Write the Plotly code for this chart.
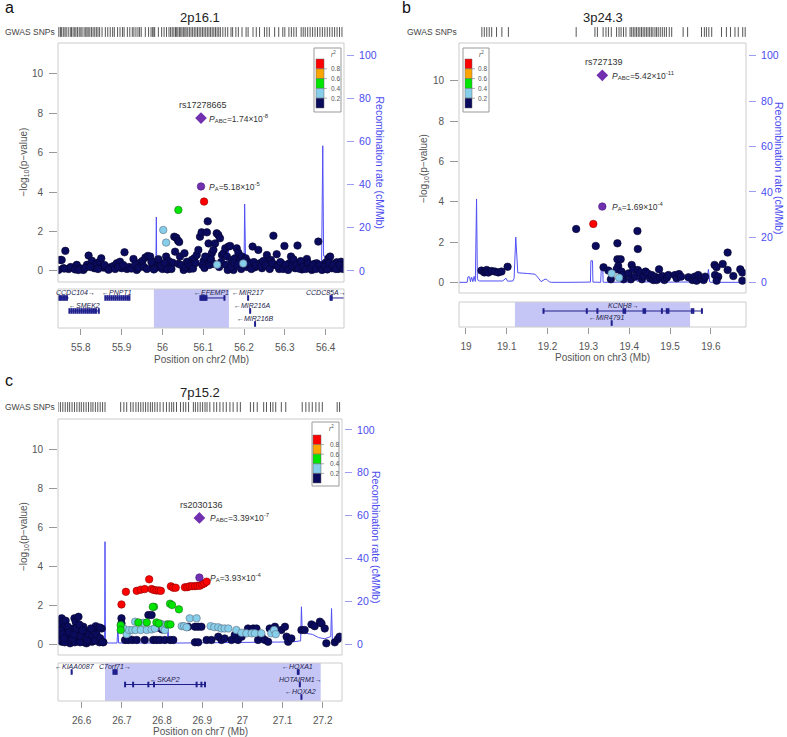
import plotly.graph_objects as go

W, H = 787, 737
FONT = "Liberation Sans, Arial, sans-serif"

# ===================== DATA: panel a (2p16.1) =====================
a_navy_pos = [55.749,55.753,55.762,55.745,55.757,55.770,55.782,55.790,55.798,55.806,55.815,55.819,55.827,55.833,55.839,55.846,55.850,55.855,55.864,55.872,
 55.880,55.888,55.896,55.900,55.907,55.913,55.929,55.937,55.945,55.951,55.958,55.964,55.970,55.976,55.982,55.986,55.994,56.000,56.009,56.015,
 56.019,56.025,56.029,56.034,56.038,56.041,56.031,56.039,56.043,56.052,56.054,56.060,56.066,56.072,56.078,56.084,56.088,56.092,56.096,56.101,
 56.105,56.109,56.111,56.113,56.117,56.121,56.125,56.129,56.133,56.137,56.141,56.146,56.150,56.154,56.158,56.162,56.166,56.170,56.174,56.178,
 56.182,56.186,56.190,56.195,56.199,56.204,56.209,56.215,56.221,56.227,56.235,56.239,56.244,56.250,56.256,56.260,56.266,56.272,56.276,56.280,
 56.286,56.293,56.299,56.305,56.311,56.315,56.321,56.325,56.331,56.336,56.342,56.348,56.354,56.360,56.366,56.373,56.378,56.382,56.387,56.395,
 56.400,56.407,56.411,56.415,56.422,56.427,56.431,56.438,56.441,
 55.760,55.775,55.786,55.794,55.810,55.823,55.842,55.858,55.868,55.884,55.892,55.904,55.918,55.924,55.933,55.941,55.955,55.962,55.973,55.979,
 55.990,55.997,56.005,56.012,56.022,56.046,56.057,56.063,56.069,56.075,56.081,56.098,56.103,56.115,56.119,56.127,56.139,56.144,56.156,56.160,
 56.168,56.176,56.184,56.193,56.201,56.207,56.212,56.218,56.224,56.230,56.242,56.247,56.253,56.263,56.269,56.283,56.289,56.296,56.302,56.308,
 56.318,56.328,56.334,56.339,56.345,56.351,56.357,56.363,56.369,56.376,56.385,56.391,56.398,56.404,56.409,56.418,56.425,56.434,56.443]
a_navy_logp = [0.56,0.56,1.02,0.05,0.14,0.10,0.17,0.31,0.14,0.05,0.31,0.78,0.52,0.14,0.39,0.47,0.64,0.17,0.14,0.19,
 0.25,0.39,0.47,0.14,0.95,0.10,0.61,0.05,0.42,0.51,0.68,0.76,0.73,0.25,0.47,0.17,0.36,0.10,0.73,0.51,
 0.22,0.42,1.74,1.69,1.54,1.47,0.98,0.36,0.73,0.05,0.90,0.47,0.10,0.56,0.64,0.81,1.07,1.74,1.96,0.51,
 0.73,1.96,2.52,1.40,0.51,0.90,1.07,1.40,1.91,1.83,1.66,0.81,0.90,1.15,0.73,1.24,1.27,0.56,0.05,0.64,
 1.15,0.93,0.56,0.73,0.31,0.64,0.47,0.25,1.24,0.19,1.07,0.39,0.14,0.47,0.81,0.22,0.56,1.79,0.31,0.85,
 0.10,0.36,1.27,0.17,0.39,0.73,0.59,0.14,1.29,0.39,0.08,0.31,0.61,0.22,0.05,0.36,0.39,1.49,0.17,0.10,
 0.42,0.64,0.73,0.14,0.36,0.44,0.10,0.47,0.31,
 0.12,0.20,0.08,0.05,0.15,0.20,0.10,0.30,0.06,0.10,0.20,0.30,0.20,0.12,0.30,0.15,0.20,0.10,0.45,0.08,
 0.60,0.25,0.40,0.08,0.10,0.30,0.20,0.35,0.25,0.12,0.40,0.30,0.15,0.30,0.60,0.35,0.20,0.45,0.30,0.05,
 0.20,0.40,0.30,0.10,0.50,0.20,0.35,0.10,0.45,0.30,0.25,0.50,0.30,0.10,0.40,0.25,0.45,0.10,0.30,0.05,
 0.25,0.30,0.12,0.50,0.20,0.10,0.40,0.15,0.30,0.10,0.30,0.05,0.25,0.08,0.40,0.30,0.10,0.30,0.10]
a_lblue_pos = [56.002, 56.009, 56.134, 56.198]
a_lblue_logp = [2.08, 1.44, 0.32, 0.38]
a_green_pos = [56.039]
a_green_logp = [3.10]
a_red_pos = [56.102]
a_red_logp = [3.52]
a_lead_pos = 56.0945
a_lead_pa = 4.29
a_lead_pabc = 7.76
a_lead_name = "rs17278665"
a_pabc_text = "1.74×10<sup>-8</sup>"
a_pa_text = "5.18×10<sup>-5</sup>"
a_rec_pos = [55.744,55.76,55.78,55.80,55.82,55.85,55.88,55.90,55.92,55.94,55.96,55.975,55.984,55.985,55.986,55.987,55.99,56.00,56.008,56.009,
 56.010,56.02,56.04,56.06,56.08,56.10,56.12,56.123,56.125,56.14,56.16,56.161,56.163,56.18,56.20,56.2015,56.2025,56.204,56.22,56.25,
 56.28,56.31,56.34,56.37,56.39,56.393,56.394,56.395,56.397,56.40,56.41,56.42,56.445]
a_rec_rate = [0.5,0.4,0.6,0.5,0.8,0.6,0.5,0.7,1.0,1.2,1.5,1.8,2.0,25,2.5,2.0,2.2,2.5,3.0,7.5,
 3.0,3.5,4.0,3.5,4.5,5.0,4.5,9.0,4.5,4.0,4.5,12,4.0,3.0,2.5,31,2.5,2.0,1.5,1.2,
 1.0,0.8,0.9,1.2,1.5,58,8,7,7,5,3,2,1.5]
a_snps = [55.746,55.750,55.753,55.757,55.761,55.764,55.769,55.774,55.777,55.781,55.785,55.788,55.792,55.796,55.800,55.803,55.808,55.812,55.815,55.818,
 55.822,55.826,55.830,55.834,55.838,55.842,55.846,55.852,55.860,55.866,55.872,55.878,55.882,55.890,55.896,55.902,55.906,55.914,55.920,55.926,
 55.930,55.935,55.940,55.944,55.948,55.958,55.966,55.972,55.976,55.979,55.981,55.990,55.998,56.004,56.010,56.016,56.020,56.024,56.028,56.032,
 56.035,56.038,56.042,56.045,56.048,56.052,56.055,56.058,56.062,56.066,56.070,56.074,56.078,56.082,56.086,56.090,56.094,56.098,56.102,56.106,
 56.110,56.114,56.118,56.122,56.126,56.130,56.134,56.138,56.142,56.148,56.154,56.160,56.168,56.172,56.180,56.186,56.195,56.205,56.210,56.222,
 56.230,56.238,56.250,56.256,56.262,56.275,56.285,56.295,56.300,56.310,56.316,56.322,56.328,56.340,56.345,56.350,56.356,56.362,56.368,56.374,
 56.380,56.386,56.392,56.398,56.404,56.410,56.416,56.422,56.428,56.434,56.440]
a_region = [55.979, 56.163]
a_gene_names = ["CCDC104→", "←PNPT1", "←EFEMP1", "←MIR217", "CCDC85A→", "←SMEK2", "←MIR216A", "←MIR216B"]
a_gene_start = [55.744, 55.859, 56.092, 56.209, 56.410, 55.771, 56.214, 56.226]
a_gene_end = [55.770, 55.920, 56.153, 56.211, 56.445, 55.845, 56.216, 56.228]
a_gene_row = [1, 1, 1, 1, 1, 2, 2, 3]
a_gene_label = [55.788, 55.889, 56.121, 56.212, 56.402, 55.808, 56.221, 56.228]
a_gene_exons = [[55.745,55.749,55.753,55.757,55.761,55.766],
 [55.860,55.865,55.870,55.875,55.880,55.885,55.890,55.895,55.900,55.905,55.910,55.915,55.919],
 [56.093,56.096,56.099,56.102,56.105,56.108,56.152],
 [56.210], [56.412,56.415],
 [55.772,55.777,55.782,55.787,55.792,55.797,55.802,55.807,55.812,55.817,55.822,55.827,55.832,55.837,55.844],
 [56.215], [56.227]]
a_xticks = [55.8, 55.9, 56.0, 56.1, 56.2, 56.3, 56.4]
a_xticktext = ["55.8", "55.9", "56", "56.1", "56.2", "56.3", "56.4"]

# ===================== DATA: panel b (3p24.3) =====================
b_navy_pos = [19.038,19.045,19.049,19.051,19.055,19.063,19.071,19.079,19.087,19.102,
 19.270,19.318,19.371,19.420,19.421,19.641,
 19.337,19.349,19.355,19.371,19.379,19.373,19.369,19.381,19.386,19.384,19.398,19.406,19.410,19.404,19.414,19.421,19.426,19.431,19.435,19.440,
 19.445,19.451,19.455,19.459,19.463,19.467,19.473,19.475,19.481,19.486,19.492,19.496,19.512,19.516,19.522,19.527,19.545,19.555,19.560,19.565,
 19.569,19.576,19.582,19.586,19.609,19.614,19.610,19.618,19.614,19.629,19.641,19.655,19.672,19.677,19.677]
b_navy_logp = [0.60,0.51,0.58,0.63,0.50,0.58,0.55,0.51,0.55,0.79,
 2.66,1.82,1.95,2.56,1.67,1.49,
 0.76,0.60,0.17,1.16,1.16,0.83,0.66,0.55,0.17,0.38,0.46,0.88,0.66,0.17,0.30,0.63,0.50,0.17,0.33,0.55,
 0.46,0.22,0.38,0.13,0.30,0.13,0.66,0.25,0.33,0.13,0.25,0.38,0.38,0.22,0.43,0.30,0.27,0.13,0.30,0.10,
 0.38,0.22,0.13,0.30,0.88,0.76,0.38,0.30,0.10,0.93,0.63,0.33,0.66,0.50,0.10]
b_lblue_pos = [19.357, 19.375]
b_lblue_logp = [0.46, 0.25]
b_green_pos = []
b_green_logp = []
b_red_pos = [19.312]
b_red_logp = [2.91]
b_lead_pos = 19.334
b_lead_pa = 3.77
b_lead_pabc = 10.27
b_lead_name = "rs727139"
b_pabc_text = "5.42×10<sup>-11</sup>"
b_pa_text = "1.69×10<sup>-4</sup>"
b_rec_pos = [18.983,19.003,19.005,19.009,19.011,19.014,19.017,19.020,19.023,19.026,19.028,19.030,19.033,19.06,19.09,19.098,19.100,19.102,19.115,19.118,
 19.122,19.127,19.15,19.169,19.177,19.184,19.194,19.198,19.204,19.21,19.25,19.30,19.305,19.306,19.310,19.311,19.33,19.332,19.335,19.336,
 19.34,19.38,19.41,19.415,19.42,19.425,19.43,19.50,19.59,19.594,19.597,19.60,19.686]
b_rec_rate = [0.2,0.2,2.6,2.6,0.5,2.4,0.5,2.8,0.6,36.9,2.0,1.0,0.8,0.9,0.8,2.0,0.8,0.7,0.8,2.0,
 20.1,4.4,4.1,3.8,2.2,0.5,1.6,1.5,0.4,0.2,0.2,0.2,0.3,9.7,9.7,0.3,0.2,7.8,7.8,0.3,
 0.2,0.3,0.3,2.5,0.5,2.8,0.4,0.3,0.4,5.9,0.4,0.2,0.2]
b_snps = [19.039,19.045,19.051,19.057,19.063,19.075,19.088,19.104,19.270,
 19.316,19.322,19.336,19.343,19.349,19.356,19.369,19.375,19.380,19.386,19.392,19.402,19.406,19.410,19.414,19.418,19.422,19.426,19.430,19.434,
 19.438,19.442,19.446,19.450,19.454,19.458,19.463,19.467,19.471,19.476,19.481,19.486,19.491,19.498,19.504,19.532,19.543,19.577,19.584,19.589,
 19.595,19.602,19.626,19.638,19.648,19.659,19.667,19.678,19.684]
b_region = [19.120, 19.549]
b_gene_names = ["KCNH8→", "←MIR4791"]
b_gene_start = [19.189, 19.356]
b_gene_end = [19.579, 19.358]
b_gene_row = [1, 2]
b_gene_label = [19.385, 19.345]
b_gene_exons = [[19.190,19.296,19.322,19.386,19.390,19.435,19.439,19.480,19.492,19.496,19.553,19.557,19.578], [19.357]]
b_xticks = [19.0, 19.1, 19.2, 19.3, 19.4, 19.5, 19.6]
b_xticktext = ["19", "19.1", "19.2", "19.3", "19.4", "19.5", "19.6"]

# ===================== DATA: panel c (7p15.2) =====================
c_navy_pos = [26.546,26.546,26.550,26.554,26.558,26.563,26.550,26.542,26.567,26.571,26.575,26.579,26.582,26.585,26.592,26.590,26.596,26.600,26.604,26.608,
 26.612,26.616,26.621,26.625,26.631,26.635,26.640,26.644,26.650,26.654,26.558,26.573,26.583,26.606,26.629,26.596,
 26.548,26.552,26.556,26.560,26.565,26.569,26.577,26.581,26.587,26.594,26.598,26.602,26.610,26.614,26.618,26.623,26.627,26.633,26.637,26.646,26.652,26.645,
 26.699,26.699,26.708,26.716,26.726,26.737,26.757,26.766,26.774,26.778,26.786,26.795,26.799,26.807,26.820,26.828,26.865,26.882,26.890,26.898,
 26.882,26.890,26.911,26.923,26.940,26.948,26.956,26.973,26.981,26.989,26.998,27.014,27.027,27.035,27.039,27.048,27.056,27.064,27.068,27.081,
 27.097,27.106,27.110,27.114,27.122,27.147,27.155,27.172,27.180,27.193,27.197,27.205,27.209,27.230,27.238,27.242,26.790,26.800,26.805]
c_navy_logp = [0.38,1.06,1.32,1.15,0.89,0.63,0.12,0.21,0.29,0.04,0.55,0.80,1.32,1.15,1.40,0.38,0.63,0.21,0.89,0.46,
 0.04,0.63,0.38,0.12,0.80,0.92,0.29,0.09,0.80,0.09,0.09,0.21,0.09,0.09,0.15,0.09,
 0.70,0.50,0.30,1.20,0.90,0.60,0.30,0.50,0.80,1.00,0.40,0.70,0.30,0.20,0.50,0.80,0.40,0.20,0.50,0.30,0.10,0.85,
 1.32,1.06,0.21,0.21,0.21,0.21,0.21,1.49,1.49,0.21,0.21,0.21,0.80,0.21,0.21,0.21,0.89,0.89,0.89,0.89,
 0.09,0.09,0.21,0.21,0.38,0.21,0.29,0.21,0.46,0.21,0.38,0.80,0.80,0.80,0.21,0.38,0.21,0.12,0.80,0.89,
 0.72,0.89,0.38,0.12,0.29,0.72,0.72,1.01,0.92,1.15,1.06,0.80,0.04,0.09,0.26,0.38,0.85,0.75,0.90]
c_lblue_pos = [26.704,26.712,26.718,26.726,26.734,26.733,26.753,26.747,26.762,26.774,26.782,26.797,26.803,26.807,26.811,26.849,26.855,26.861,26.869,26.886,
 26.921,26.930,26.940,26.948,26.956,26.965,26.985,26.998,27.010,27.023,27.031,27.047,27.072,27.079,27.083]
c_lblue_logp = [0.80,0.51,0.72,0.72,0.72,1.15,1.09,0.72,0.72,0.75,0.80,1.04,0.80,0.72,1.01,0.92,0.92,0.86,1.32,1.32,
 0.92,0.87,0.86,0.80,0.80,0.80,0.72,0.58,0.55,0.55,0.55,0.55,0.55,0.72,0.51]
c_green_pos = [26.780,26.777,26.820,26.825,26.842,26.697,26.697,26.741,26.762,26.786,26.792,26.815,26.821]
c_green_logp = [1.91,1.91,2.07,2.00,1.78,0.97,0.72,1.11,1.11,1.11,1.06,1.01,1.01]
c_red_pos = [26.699,26.710,26.737,26.747,26.757,26.768,26.774,26.780,26.786,26.792,26.797,26.822,26.828,26.834,26.857,26.863,26.869,26.875,26.882,26.888,
 26.894,26.900,26.905,26.911]
c_red_logp = [2.03,2.68,2.73,2.79,2.82,3.32,2.82,2.77,2.75,2.75,2.73,2.96,2.89,2.89,2.91,2.92,2.96,2.97,2.97,2.99,
 2.99,3.06,3.11,3.20]
c_lead_pos = 26.893
c_lead_pa = 3.41
c_lead_pabc = 6.47
c_lead_name = "rs2030136"
c_pabc_text = "3.39×10<sup>-7</sup>"
c_pa_text = "3.93×10<sup>-4</sup>"
c_rec_pos = [26.541,26.543,26.544,26.546,26.549,26.550,26.552,26.556,26.565,26.585,26.605,26.607,26.609,26.63,26.650,26.657,26.658,26.659,26.665,26.688,
 26.690,26.692,26.722,26.724,26.726,26.76,26.80,26.813,26.815,26.817,26.85,26.90,26.95,27.00,27.05,27.10,27.120,27.122,27.124,27.145,
 27.147,27.149,27.16,27.175,27.19,27.205,27.220,27.222,27.224,27.235,27.248]
c_rec_rate = [1.0,10.7,1.0,2.0,13.5,2.0,1.0,5.0,1.0,0.8,1.0,9.0,1.0,0.8,1.2,1.0,47.8,1.0,0.5,0.5,
 7.4,0.5,0.5,3.9,0.5,0.5,0.5,0.5,7.4,0.5,0.5,0.6,0.7,0.5,0.8,0.7,1.0,4.0,1.0,1.5,
 17.4,5.9,5.0,4.5,3.0,2.5,3.5,16.6,2.0,1.5,3.0]
c_snps = [26.541,26.547,26.553,26.559,26.565,26.570,26.576,26.582,26.588,26.594,26.599,26.605,26.611,26.617,26.623,26.628,26.634,26.640,26.646,26.652,26.658,
 26.697,26.705,26.712,26.722,26.728,26.735,26.741,26.747,26.753,26.759,26.765,26.771,26.776,26.782,26.788,26.795,26.803,26.811,26.818,26.824,
 26.829,26.836,26.846,26.853,26.859,26.866,26.878,26.883,26.889,26.895,26.901,26.907,26.912,26.919,26.929,26.936,26.944,26.952,26.960,26.969,
 26.977,26.987,26.995,27.020,27.028,27.037,27.053,27.060,27.070,27.076,27.083,27.097,27.108,27.149,27.158,27.166,27.174,27.183,27.191,27.199,
 27.236,27.242]
c_region = [26.658, 27.195]
c_gene_names = ["←KIAA0087", "C7orf71→", "←HOXA1", "←SKAP2", "HOTAIRM1→", "←HOXA2"]
c_gene_start = [26.573, 26.678, 27.137, 26.708, 27.142, 27.146]
c_gene_end = [26.577, 26.688, 27.141, 26.907, 27.145, 27.148]
c_gene_row = [1, 1, 1, 2, 2, 3]
c_gene_label = [26.583, 26.684, 27.138, 26.807, 27.144, 27.145]
c_gene_exons = [[26.575], [26.679, 26.683, 26.687], [27.138, 27.140],
 [26.708, 26.728, 26.766, 26.780, 26.886, 26.898, 26.907], [27.143], [27.147]]
c_xticks = [26.6, 26.7, 26.8, 26.9, 27.0, 27.1, 27.2]
c_xticktext = ["26.6", "26.7", "26.8", "26.9", "27", "27.1", "27.2"]

# LD legend
ld_colors = ["#FF0000", "#FFA500", "#00E600", "#87CEEB", "#0B0B5E"]
ld_breaks = ["0.8", "0.6", "0.4", "0.2"]

# ===================== LAYOUT GEOMETRY (pixels) =====================
geoms = [
    dict(tag="a", title="2p16.1", chrom="chr2", box=(58, 344, 43, 282), gene=(289, 328), strip=32,
         yp=[-0.56, 11.57], yr=[-5.1, 105.6], xr=[55.744, 56.445], gr=[0.69, 3.69], rpos=346,
         leg=(314, 48, 341, 112), sqx=(316, 324), sqy=(59, 108), labx=330,
         tpos=(200, 17), lpos=(3, 8), gwx=3, ltx=24, rtx=379, xly=359, yshift_name=13, pshift=9),
    dict(tag="b", title="3p24.3", chrom="chr3", box=(459, 746, 43, 293), gene=(302, 327), strip=32,
         yp=[-0.51, 11.87], yr=[-4.5, 105.6], xr=[18.983, 19.686], gr=[1.67, 3.75], rpos=748,
         leg=(463, 48, 489, 112), sqx=(465, 472), sqy=(59, 108), labx=477,
         tpos=(603, 17), lpos=(400, 8), gwx=405, ltx=424, rtx=779, xly=357, yshift_name=13, pshift=11),
    dict(tag="c", title="7p15.2", chrom="chr7", box=(58, 342, 419, 655), gene=(663, 701), strip=407,
         yp=[-0.56, 11.54], yr=[-5.1, 105.1], xr=[26.541, 27.248], gr=[0.68, 3.72], rpos=344,
         leg=(312, 422, 339, 486), sqx=(313, 321), sqy=(435, 483), labx=329,
         tpos=(200, 392), lpos=(3, 380), gwx=3, ltx=24, rtx=376, xly=731, yshift_name=13, pshift=12),
]

datas = [
    dict(navy=(a_navy_pos, a_navy_logp), lblue=(a_lblue_pos, a_lblue_logp), green=(a_green_pos, a_green_logp),
         red=(a_red_pos, a_red_logp), lead=(a_lead_pos, a_lead_pa, a_lead_pabc, a_lead_name, a_pabc_text, a_pa_text),
         rec=(a_rec_pos, a_rec_rate), snps=a_snps, region=a_region,
         genes=(a_gene_names, a_gene_start, a_gene_end, a_gene_row, a_gene_label, a_gene_exons),
         xt=(a_xticks, a_xticktext)),
    dict(navy=(b_navy_pos, b_navy_logp), lblue=(b_lblue_pos, b_lblue_logp), green=(b_green_pos, b_green_logp),
         red=(b_red_pos, b_red_logp), lead=(b_lead_pos, b_lead_pa, b_lead_pabc, b_lead_name, b_pabc_text, b_pa_text),
         rec=(b_rec_pos, b_rec_rate), snps=b_snps, region=b_region,
         genes=(b_gene_names, b_gene_start, b_gene_end, b_gene_row, b_gene_label, b_gene_exons),
         xt=(b_xticks, b_xticktext)),
    dict(navy=(c_navy_pos, c_navy_logp), lblue=(c_lblue_pos, c_lblue_logp), green=(c_green_pos, c_green_logp),
         red=(c_red_pos, c_red_logp), lead=(c_lead_pos, c_lead_pa, c_lead_pabc, c_lead_name, c_pabc_text, c_pa_text),
         rec=(c_rec_pos, c_rec_rate), snps=c_snps, region=c_region,
         genes=(c_gene_names, c_gene_start, c_gene_end, c_gene_row, c_gene_label, c_gene_exons),
         xt=(c_xticks, c_xticktext)),
]


def PX(x):
    return x / W


def PY(y):
    return 1 - y / H


def aname(kind, n):
    return f"{kind}axis" if n == 1 else f"{kind}axis{n}"


def ref(kind, n):
    return kind if n == 1 else f"{kind}{n}"


def ptext(x, y, text, size, color, xanchor="center", angle=0):
    return dict(x=PX(x), y=PY(y), xref="paper", yref="paper", xanchor=xanchor, yanchor="middle",
                showarrow=False, text=text, textangle=angle, font=dict(size=size, color=color, family=FONT))


fig = go.Figure()
layout = dict(width=W, height=H, margin=dict(l=0, r=0, t=0, b=0, pad=0), showlegend=False, autosize=False,
              paper_bgcolor="white", plot_bgcolor="rgba(0,0,0,0)", template="none",
              font=dict(family=FONT, color="#444"))
shapes, annots = [], []
GREY = "#555555"
BLUE = "#4B4BF0"
GENEC = "#1E1E8C"

for i, (g, d) in enumerate(zip(geoms, datas)):
    xm, xg, xs = 3 * i + 1, 3 * i + 2, 3 * i + 3
    yrec, yp, yg, ys = 4 * i + 1, 4 * i + 2, 4 * i + 3, 4 * i + 4
    bx0, bx1, by0, by1 = g["box"]
    xdom = [PX(bx0), PX(bx1)]
    noax = dict(showgrid=False, zeroline=False, showline=False, showticklabels=False, ticks="")

    layout[aname("x", xm)] = dict(domain=xdom, range=g["xr"], anchor=ref("y", yrec), visible=False)
    layout[aname("y", yrec)] = dict(domain=[PY(by1), PY(by0)], range=g["yr"], anchor="free", position=PX(g["rpos"]),
                                    side="right", showgrid=False, zeroline=False, showline=False,
                                    tickvals=[0, 20, 40, 60, 80, 100], ticks="outside", ticklen=7, tickcolor="#9C9CF0",
                                    tickfont=dict(size=10.5, color=BLUE, family=FONT), ticklabelstandoff=3)
    layout[aname("y", yp)] = dict(overlaying=ref("y", yrec), range=g["yp"], anchor=ref("x", xm), side="left",
                                  showgrid=False, zeroline=False, showline=False,
                                  tickvals=[0, 2, 4, 6, 8, 10], ticks="outside", ticklen=8, tickcolor="#999",
                                  tickfont=dict(size=10, color=GREY, family=FONT), ticklabelstandoff=4)
    gy0, gy1 = g["gene"]
    layout[aname("x", xg)] = dict(domain=xdom, range=g["xr"], anchor=ref("y", yg), showgrid=False, zeroline=False,
                                  showline=False, tickvals=d["xt"][0], ticktext=d["xt"][1], ticks="outside",
                                  ticklen=6, tickcolor="#999", tickfont=dict(size=10, color=GREY, family=FONT),
                                  ticklabelstandoff=4)
    layout[aname("y", yg)] = dict(domain=[PY(gy1), PY(gy0)], range=g["gr"], anchor=ref("x", xg), **noax)
    layout[aname("x", xs)] = dict(domain=xdom, range=g["xr"], anchor=ref("y", ys), **noax)
    layout[aname("y", ys)] = dict(domain=[PY(g["strip"] + 5), PY(g["strip"] - 5)], range=[0, 1],
                                  anchor=ref("x", xs), **noax)

    # recombination rate
    rp, rr = d["rec"]
    fig.add_trace(go.Scatter(x=rp, y=rr, mode="lines", line=dict(color="rgb(80,80,245)", width=1),
                             xaxis=ref("x", xm), yaxis=ref("y", yrec), hoverinfo="skip"))
    # SNP points by LD bin
    for key, col, lc in [("navy", ld_colors[4], "#05052E"), ("lblue", ld_colors[3], "#5F6F80"),
                         ("green", ld_colors[2], "#1F6F1F"), ("red", ld_colors[0], "#8A0000")]:
        xs_, ys_ = d[key]
        if xs_:
            fig.add_trace(go.Scatter(x=xs_, y=ys_, mode="markers",
                                     marker=dict(size=7.5, color=col, line=dict(color=lc, width=0.6)),
                                     xaxis=ref("x", xm), yaxis=ref("y", yp)))
    lpos, lpa, lpabc, lname, tabc, tpa = d["lead"]
    fig.add_trace(go.Scatter(x=[lpos], y=[lpa], mode="markers",
                             marker=dict(size=7.5, color="#7030B0", line=dict(color="#4A1A80", width=0.6)),
                             xaxis=ref("x", xm), yaxis=ref("y", yp)))
    fig.add_trace(go.Scatter(x=[lpos], y=[lpabc], mode="markers",
                             marker=dict(size=9, symbol="diamond", color="#7030B0", line=dict(width=0)),
                             xaxis=ref("x", xm), yaxis=ref("y", yp)))
    annots.append(dict(x=lpos, y=lpabc, xref=ref("x", xm), yref=ref("y", yp), text=lname, showarrow=False,
                       xanchor="center", yanchor="middle",
                       yshift=g["yshift_name"], xshift=2, font=dict(size=9, color="#333", family=FONT)))
    annots.append(dict(x=lpos, y=lpabc, xref=ref("x", xm), yref=ref("y", yp), xanchor="left", yanchor="middle",
                       showarrow=False, xshift=g["pshift"] - 3, text=f"<i>P</i><sub>ABC</sub>={tabc}",
                       font=dict(size=8.5, color="#333", family=FONT)))
    annots.append(dict(x=lpos, y=lpa, xref=ref("x", xm), yref=ref("y", yp), xanchor="left", yanchor="middle",
                       showarrow=False, xshift=g["pshift"] - 3, text=f"<i>P</i><sub>A</sub>={tpa}",
                       font=dict(size=8.5, color="#333", family=FONT)))

    # GWAS SNPs strip
    fig.add_trace(go.Scatter(x=d["snps"], y=[0.5] * len(d["snps"]), mode="markers",
                             marker=dict(symbol="line-ns", size=7, line=dict(color="#555555", width=1)),
                             xaxis=ref("x", xs), yaxis=ref("y", ys), hoverinfo="skip"))

    # region shading in gene panel
    shapes.append(dict(type="rect", xref=ref("x", xg), yref=ref("y", yg) + " domain", x0=d["region"][0],
                       x1=d["region"][1], y0=0, y1=1, fillcolor="#C6C6F6", line=dict(width=0), layer="below"))
    # genes
    names, gs, ge, grow, glab, gex = d["genes"]
    for nm, s, e, r, lx, ex in zip(names, gs, ge, grow, glab, gex):
        ry = 4 - r
        fig.add_trace(go.Scatter(x=[s, e], y=[ry, ry], mode="lines", line=dict(color=GENEC, width=1),
                                 xaxis=ref("x", xg), yaxis=ref("y", yg), hoverinfo="skip"))
        fig.add_trace(go.Scatter(x=ex, y=[ry] * len(ex), mode="markers",
                                 marker=dict(symbol="line-ns", size=4, line=dict(color=GENEC, width=2)),
                                 xaxis=ref("x", xg), yaxis=ref("y", yg), hoverinfo="skip"))
        annots.append(dict(x=lx, y=ry, xref=ref("x", xg), yref=ref("y", yg), xanchor="center", yanchor="bottom",
                           yshift=0, showarrow=False, text=f"<i>{nm}</i>",
                           font=dict(size=7, color="#22224A", family=FONT)))

    # frames
    shapes.append(dict(type="rect", xref="paper", yref="paper", x0=PX(bx0), x1=PX(bx1), y0=PY(by1), y1=PY(by0),
                       line=dict(color="#CCCCCC", width=1)))
    shapes.append(dict(type="rect", xref="paper", yref="paper", x0=PX(bx0), x1=PX(bx1), y0=PY(gy1), y1=PY(gy0),
                       line=dict(color="#CCCCCC", width=1)))

    # LD legend box
    lx0, ly0, lx1, ly1 = g["leg"]
    shapes.append(dict(type="rect", xref="paper", yref="paper", x0=PX(lx0), x1=PX(lx1), y0=PY(ly1), y1=PY(ly0),
                       line=dict(color="#999", width=1), fillcolor="white"))
    sx0, sx1 = g["sqx"]
    sy0, sy1 = g["sqy"]
    step = (sy1 - sy0) / 5
    for k, col in enumerate(ld_colors):
        shapes.append(dict(type="rect", xref="paper", yref="paper", x0=PX(sx0), x1=PX(sx1),
                           y0=PY(sy0 + (k + 1) * step), y1=PY(sy0 + k * step), fillcolor=col,
                           line=dict(color="#666", width=0.5)))
    for k, lab in enumerate(ld_breaks):
        yy = sy0 + (k + 1) * step
        shapes.append(dict(type="line", xref="paper", yref="paper", x0=PX(sx1), x1=PX(sx1 + 3), y0=PY(yy), y1=PY(yy),
                           line=dict(color="#777", width=0.6)))
        annots.append(ptext(g["labx"] - 1, yy, lab, 6.5, "#555", xanchor="left"))
    annots.append(ptext((sx1 + lx1) / 2 + 1, ly0 + 6, "<i>r</i><sup>2</sup>", 6.5, "#555"))

    # titles / labels
    annots.append(ptext(g["tpos"][0], g["tpos"][1], g["title"], 13, "#222"))
    annots.append(ptext(g["lpos"][0], g["lpos"][1], g["tag"], 16, "#111", xanchor="left"))
    annots.append(ptext(g["gwx"], g["strip"], "GWAS SNPs", 8.5, "#444", xanchor="left"))
    annots.append(ptext(g["ltx"], (by0 + by1) / 2, "−log<sub>10</sub>(p−value)", 10, GREY, angle=-90))
    annots.append(ptext(g["rtx"], (by0 + by1) / 2, "Recombination rate (cM/Mb)", 10.5, BLUE, angle=90))
    annots.append(ptext((bx0 + bx1) / 2, g["xly"], f"Position on {g['chrom']} (Mb)", 10, GREY))

layout["shapes"] = shapes
layout["annotations"] = annots
fig.update_layout(**layout)
fig.write_html("out.html", config={"displayModeBar": False},
               post_script="document.body.style.margin='0';document.body.style.padding='0';")
